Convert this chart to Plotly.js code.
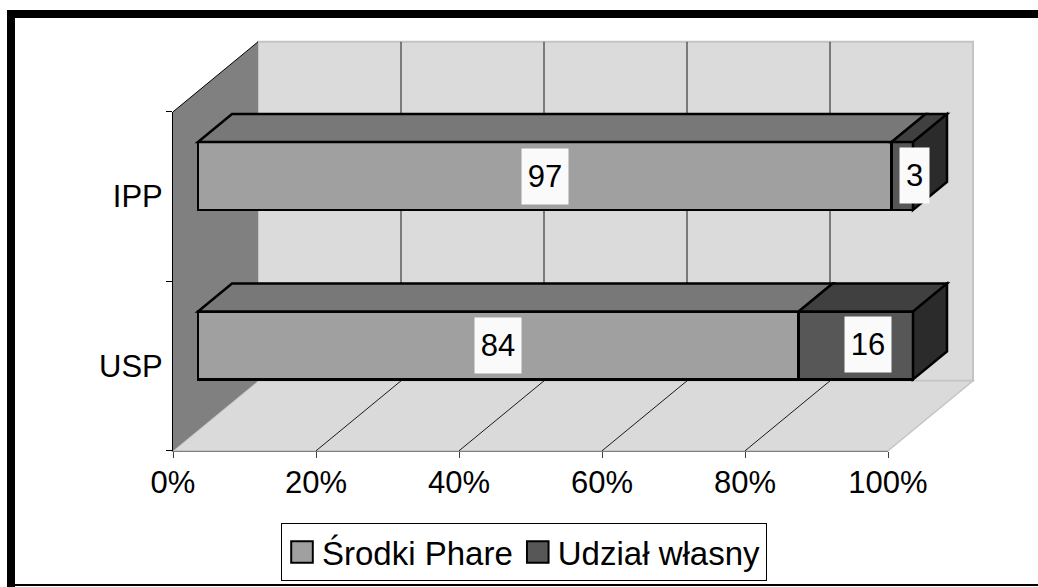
<!DOCTYPE html>
<html>
<head>
<meta charset="utf-8">
<script src="https://cdn.plot.ly/plotly-3.0.1.min.js"></script>
<style>
html, body { margin: 0; padding: 0; background: #ffffff; }
#chart { width: 1038px; height: 587px; }
#chart .legend .legendpoints path {
  transform: translate(20px, 0px) scale(1.8);
  stroke-width: 1.1px !important;
}
</style>
</head>
<body>
<div id="chart"></div>
<script>
// ---- data ----
const categories = ['USP', 'IPP'];
const seriesNames = ['Środki Phare', 'Udział własny'];
const srodkiPhare = [84, 97];
const udzialWlasny = [16, 3];
const tickValues = [0, 20, 40, 60, 80, 100];
const tickLabels = ['0%', '20%', '40%', '60%', '80%', '100%'];

// ---- geometry of the pseudo-3D view (pixels) ----
const W = 1038, H = 587;
const X0 = 198, SX = 7.15;      // value 0 at bar front plane, px per %
const C0 = 345.5, SY = 169.5;   // category 0 centre at bar front plane, px per category
const DX = 85, DY = 70;         // full depth offset of the box
const D0 = 25 / 85;             // depth of bar front plane
const BD = 0.4;                 // bar depth (fraction of box depth)
const BW = 0.4;                 // bar width (category units)
const FONT = 'Liberation Sans, Arial, sans-serif';

function P(v, c, d) { return [v + DX / SX * (d - D0), c + DY / SY * (d - D0)]; }
function pathOf(pts) { return 'M' + pts.map(p => p[0].toFixed(4) + ',' + p[1].toFixed(4)).join('L') + 'Z'; }
function lineOf(a, b) { return 'M' + a[0].toFixed(4) + ',' + a[1].toFixed(4) + 'L' + b[0].toFixed(4) + ',' + b[1].toFixed(4); }

const vMin = tickValues[0], vMax = tickValues[tickValues.length - 1];
const cLo = -0.5, cHi = categories.length - 0.5;
const catIdx = categories.map((_, i) => i);

const shapes = [];
// back wall
shapes.push({type: 'path', xref: 'x', yref: 'y', layer: 'below',
  path: pathOf([P(vMin, cLo, 1), P(vMax, cLo, 1), P(vMax, cHi, 1), P(vMin, cHi, 1)]),
  fillcolor: '#dbdbdb', line: {color: '#c4c4c4', width: 2}});
// floor
shapes.push({type: 'path', xref: 'x', yref: 'y', layer: 'below',
  path: pathOf([P(vMin, cLo, 0), P(vMax, cLo, 0), P(vMax, cLo, 1), P(vMin, cLo, 1)]),
  fillcolor: '#dadada', line: {color: '#c4c4c4', width: 1.5}});
// left wall
shapes.push({type: 'path', xref: 'x', yref: 'y', layer: 'below',
  path: pathOf([P(vMin, cLo, 0), P(vMin, cHi, 0), P(vMin, cHi, 1), P(vMin, cLo, 1)]),
  fillcolor: '#808080', line: {width: 0}});
shapes.push({type: 'path', xref: 'x', yref: 'y', layer: 'below',
  path: lineOf(P(vMin, cHi, 0), P(vMin, cHi, 1)), line: {color: '#000000', width: 1}});
// gridlines (back wall + floor)
tickValues.slice(1, -1).forEach(v => {
  shapes.push({type: 'path', xref: 'x', yref: 'y', layer: 'below',
    path: lineOf(P(v, cLo, 1), P(v, cHi, 1)), line: {color: '#1a1a1a', width: 1}});
  shapes.push({type: 'path', xref: 'x', yref: 'y', layer: 'below',
    path: lineOf(P(v, cLo, 0), P(v, cLo, 1)), line: {color: '#1a1a1a', width: 1}});
});

// bar top / side faces
const seriesVals = [srodkiPhare, udzialWlasny];
const frontColors = ['#a0a0a0', '#575757'];
const topColors = ['#787878', '#404040'];
const sideColors = ['#5a5a5a', '#2b2b2b'];
const annotations = [];
catIdx.forEach(i => {
  let s = 0;
  seriesVals.forEach((arr, k) => {
    const v = arr[i], e = s + v;
    const cT = i + BW / 2, cB = i - BW / 2;
    shapes.push({type: 'path', xref: 'x', yref: 'y', layer: 'above',
      path: pathOf([P(s, cT, D0), P(e, cT, D0), P(e, cT, D0 + BD), P(s, cT, D0 + BD)]),
      fillcolor: topColors[k], line: {color: '#000000', width: 2.5}});
    if (k === seriesVals.length - 1) {
      shapes.push({type: 'path', xref: 'x', yref: 'y', layer: 'above',
        path: pathOf([P(e, cB, D0), P(e, cT, D0), P(e, cT, D0 + BD), P(e, cB, D0 + BD)]),
        fillcolor: sideColors[k], line: {color: '#000000', width: 2.5}});
    }
    const txt = String(v);
    annotations.push({x: s + v / 2, y: i, xref: 'x', yref: 'y', text: txt, showarrow: false,
      bgcolor: '#fafafa', borderpad: 0, width: 17 * txt.length + 12, height: 55,
      xshift: k === 1 ? 12 : 0, yshift: k === 1 ? 1 : 0,
      font: {family: FONT, size: 31, color: '#000000'}});
    s = e;
  });
});

// outer frame
shapes.push({type: 'rect', xref: 'paper', yref: 'paper', layer: 'above',
  x0: 7 / W, x1: 1.02, y0: 1 - 18 / H, y1: 1 - 10 / H, fillcolor: '#000000', line: {width: 0}});
shapes.push({type: 'rect', xref: 'paper', yref: 'paper', layer: 'above',
  x0: 7 / W, x1: 15 / W, y0: -0.02, y1: 1 - 10 / H, fillcolor: '#000000', line: {width: 0}});
shapes.push({type: 'rect', xref: 'paper', yref: 'paper', layer: 'above',
  x0: 7 / W, x1: 1.02, y0: 1 - 586 / H, y1: 1 - 584 / H, fillcolor: '#000000', line: {width: 0}});

const traces = seriesVals.map((arr, k) => ({
  type: 'bar', orientation: 'h', name: seriesNames[k],
  x: arr, y: catIdx, xaxis: 'x', yaxis: 'y', width: BW,
  marker: {color: frontColors[k], line: {color: '#000000', width: 2.5}},
  hoverinfo: 'skip'
}));
// category axis carrier (no visible marks)
traces.push({type: 'scatter', mode: 'markers', x: categories.map(() => null), y: categories,
  xaxis: 'x2', yaxis: 'y2', showlegend: false, hoverinfo: 'skip', marker: {opacity: 0}});

const frontLeft = X0 - DX * D0;
const floorFront = C0 + (0.5) * SY + DY * D0;

const layout = {
  width: W, height: H,
  margin: {l: 0, r: 0, t: 0, b: 0},
  paper_bgcolor: '#ffffff', plot_bgcolor: 'rgba(0,0,0,0)',
  font: {family: FONT, size: 31, color: '#000000'},
  barmode: 'stack',
  showlegend: true,
  xaxis: {domain: [0, 1], range: [-X0 / SX, (W - X0) / SX], visible: false, fixedrange: true},
  yaxis: {domain: [0, 1], range: [(C0 - H) / SY, C0 / SY], visible: false, fixedrange: true},
  xaxis2: {domain: [frontLeft / W, (frontLeft + (vMax - vMin) * SX) / W], range: [vMin, vMax],
    anchor: 'y2', tickmode: 'array', tickvals: tickValues, ticktext: tickLabels,
    ticks: 'outside', ticklen: 6, tickcolor: '#404040', tickwidth: 1, ticklabelstandoff: -2,
    showline: true, linecolor: '#808080', linewidth: 1, showgrid: false, zeroline: false,
    tickfont: {family: FONT, size: 31, color: '#000000'}, fixedrange: true},
  yaxis2: {domain: [1 - floorFront / H, 1 - (floorFront - 2 * SY) / H], type: 'category',
    categoryorder: 'array', categoryarray: categories, range: [cLo, cHi], anchor: 'x2',
    tickson: 'boundaries', ticks: 'outside', ticklen: 6, tickcolor: '#000000', tickwidth: 1,
    ticklabelstandoff: 3,
    showline: true, linecolor: '#000000', linewidth: 1, showgrid: false, zeroline: false,
    tickfont: {family: FONT, size: 31, color: '#000000'}, fixedrange: true},
  legend: {orientation: 'h', x: 281 / W, y: 1 - 552 / H, xanchor: 'left', yanchor: 'middle',
    bgcolor: '#ffffff', bordercolor: '#000000', borderwidth: 1,
    font: {family: FONT, size: 33, color: '#000000'}, traceorder: 'normal', itemclick: false},
  shapes: shapes,
  annotations: annotations
};

Plotly.newPlot('chart', traces, layout, {displayModeBar: false, staticPlot: true});
</script>
</body>
</html>
